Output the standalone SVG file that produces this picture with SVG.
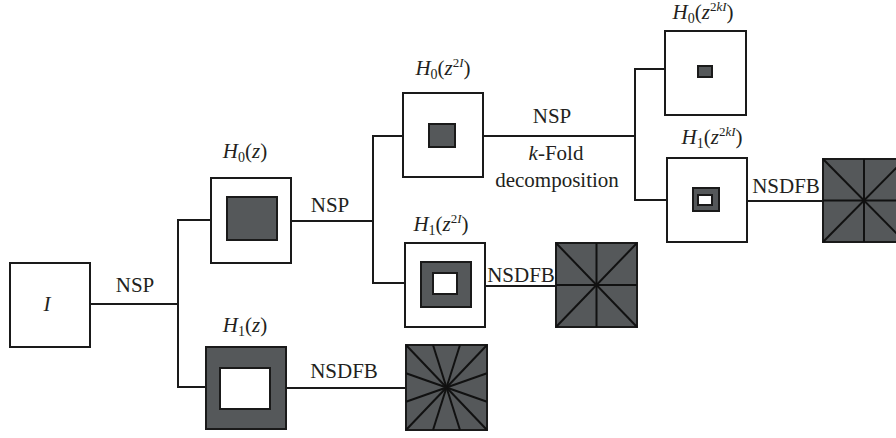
<svg xmlns="http://www.w3.org/2000/svg" width="896" height="438" viewBox="0 0 896 438">
<defs>
<style>
.box{fill:#fff;stroke:#1a1a1a;stroke-width:2}
.dark{fill:#55585a;stroke:#1a1a1a;stroke-width:2}
.wh{fill:#fff;stroke:#1a1a1a;stroke-width:2}
.ln{fill:none;stroke:#1a1a1a;stroke-width:2}
.ray{fill:none;stroke:#111;stroke-width:2}
</style>
</defs>
<rect width="896" height="438" fill="#fff"/>
<g font-family="Liberation Serif, Times New Roman, serif" font-size="21" fill="#231f20" text-anchor="middle">
<g id="connectors">
<polyline class="ln" points="90,304 178,304"/>
<polyline class="ln" points="211,220 178,220 178,387 206,387"/>
<polyline class="ln" points="286,388 406,388"/>
<polyline class="ln" points="291,221 373,221"/>
<polyline class="ln" points="403,136 373,136 373,283 405,283"/>
<polyline class="ln" points="485,286 556,286"/>
<polyline class="ln" points="483,136 635,136"/>
<polyline class="ln" points="665,69 635,69 635,200 667,200"/>
<polyline class="ln" points="747,201 823,201"/>
<text x="135" y="292" font-family="Liberation Serif, serif" font-size="21">NSP</text>
<text x="330" y="212" font-family="Liberation Serif, serif" font-size="21">NSP</text>
<text x="552" y="123" font-family="Liberation Serif, serif" font-size="21">NSP</text>
<text x="556" y="160" font-family="Liberation Serif, serif" font-size="21"><tspan font-style="italic">k</tspan>-Fold</text>
<text x="557" y="187" font-family="Liberation Serif, serif" font-size="21">decomposition</text>
<text x="344" y="378" font-family="Liberation Serif, serif" font-size="21">NSDFB</text>
<text x="521" y="282" font-family="Liberation Serif, serif" font-size="21">NSDFB</text>
<text x="786" y="193" font-family="Liberation Serif, serif" font-size="21">NSDFB</text>
</g>
<g id="node-I">
<rect class="box" x="10" y="263" width="80" height="84"/>
<text x="47" y="311" font-family="Liberation Serif, serif" font-size="21" font-style="italic">I</text>
</g>
<g id="node-H0z">
<rect class="box" x="211" y="178" width="80" height="85"/>
<rect class="dark" x="227" y="197" width="50" height="43"/>
<text x="245" y="158" font-family="Liberation Serif, serif" font-size="21"><tspan font-style="italic">H</tspan><tspan font-size="14" dy="4">0</tspan><tspan dy="-4">(</tspan><tspan font-style="italic">z</tspan>)</text>
</g>
<g id="node-H1z">
<rect class="dark" x="206" y="347" width="80" height="82"/>
<rect class="wh" x="220" y="368" width="50" height="41"/>
<text x="245" y="332" font-family="Liberation Serif, serif" font-size="21"><tspan font-style="italic">H</tspan><tspan font-size="14" dy="4">1</tspan><tspan dy="-4">(</tspan><tspan font-style="italic">z</tspan>)</text>
</g>
<g id="node-dfb1">
<rect class="dark" x="406" y="345" width="81" height="85"/>
<g class="ray">
<line x1="446.5" y1="387.5" x2="406" y2="345"/>
<line x1="446.5" y1="387.5" x2="433" y2="345"/>
<line x1="446.5" y1="387.5" x2="460" y2="345"/>
<line x1="446.5" y1="387.5" x2="487" y2="345"/>
<line x1="446.5" y1="387.5" x2="487" y2="373.3"/>
<line x1="446.5" y1="387.5" x2="487" y2="401.7"/>
<line x1="446.5" y1="387.5" x2="487" y2="430"/>
<line x1="446.5" y1="387.5" x2="460" y2="430"/>
<line x1="446.5" y1="387.5" x2="433" y2="430"/>
<line x1="446.5" y1="387.5" x2="406" y2="430"/>
<line x1="446.5" y1="387.5" x2="406" y2="401.7"/>
<line x1="446.5" y1="387.5" x2="406" y2="373.3"/>
</g>
</g>
<g id="node-H0z2I">
<rect class="box" x="403" y="93" width="80" height="84"/>
<rect class="dark" x="429" y="124" width="26" height="23"/>
<text x="443" y="75" font-family="Liberation Serif, serif" font-size="21"><tspan font-style="italic">H</tspan><tspan font-size="14" dy="4">0</tspan><tspan dy="-4">(</tspan><tspan font-style="italic">z</tspan><tspan font-size="13" dy="-8">2</tspan><tspan font-size="13" font-style="italic">I</tspan><tspan dy="8">)</tspan></text>
</g>
<g id="node-H1z2I">
<rect class="box" x="405" y="243" width="80" height="84"/>
<rect class="dark" x="421" y="262" width="50" height="45"/>
<rect class="wh" x="433" y="273" width="24" height="21"/>
<text x="441" y="231" font-family="Liberation Serif, serif" font-size="21"><tspan font-style="italic">H</tspan><tspan font-size="14" dy="4">1</tspan><tspan dy="-4">(</tspan><tspan font-style="italic">z</tspan><tspan font-size="13" dy="-8">2</tspan><tspan font-size="13" font-style="italic">I</tspan><tspan dy="8">)</tspan></text>
</g>
<g id="node-dfb2">
<rect class="dark" x="556" y="243" width="81" height="84"/>
<g class="ray">
<line x1="556" y1="243" x2="637" y2="327"/>
<line x1="637" y1="243" x2="556" y2="327"/>
<line x1="596.5" y1="243" x2="596.5" y2="327"/>
<line x1="556" y1="285" x2="637" y2="285"/>
</g>
</g>
<g id="node-H0z2kI">
<rect class="box" x="665" y="31" width="81" height="84"/>
<rect class="dark" x="698" y="66" width="14" height="11"/>
<text x="703" y="19" font-family="Liberation Serif, serif" font-size="21"><tspan font-style="italic">H</tspan><tspan font-size="14" dy="4">0</tspan><tspan dy="-4">(</tspan><tspan font-style="italic">z</tspan><tspan font-size="13" dy="-8">2</tspan><tspan font-size="13" font-style="italic">kI</tspan><tspan dy="8">)</tspan></text>
</g>
<g id="node-H1z2kI">
<rect class="box" x="667" y="158" width="80" height="84"/>
<rect class="dark" x="693" y="188" width="26" height="23"/>
<rect class="wh" x="698" y="195" width="14" height="10"/>
<text x="712" y="144" font-family="Liberation Serif, serif" font-size="21"><tspan font-style="italic">H</tspan><tspan font-size="14" dy="4">1</tspan><tspan dy="-4">(</tspan><tspan font-style="italic">z</tspan><tspan font-size="13" dy="-8">2</tspan><tspan font-size="13" font-style="italic">kI</tspan><tspan dy="8">)</tspan></text>
</g>
<g id="node-dfb3">
<rect class="dark" x="823" y="159" width="82" height="83"/>
<g class="ray">
<line x1="823" y1="159" x2="905" y2="242"/>
<line x1="905" y1="159" x2="823" y2="242"/>
<line x1="864" y1="159" x2="864" y2="242"/>
<line x1="823" y1="200.5" x2="905" y2="200.5"/>
</g>
</g>
</g>
</svg>
